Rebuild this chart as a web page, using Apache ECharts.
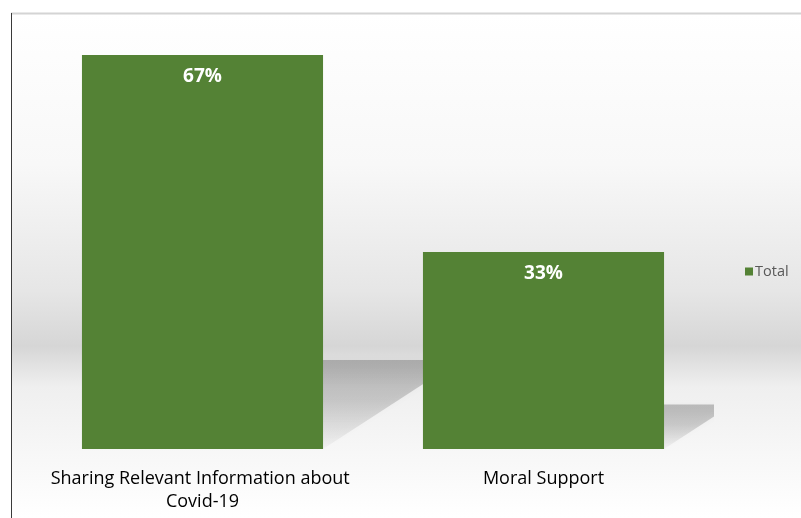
<!DOCTYPE html>
<html><head><meta charset="utf-8">
<script src="https://cdn.jsdelivr.net/npm/echarts@6/dist/echarts.min.js"></script>
<style>html,body{margin:0;padding:0;background:#fff}#c{width:801px;height:518px}</style>
</head><body><div id="c"></div>
<script>
const categories = ['Sharing Relevant Information about Covid-19', 'Moral Support'];
const totalValues = [66.67, 33.33];
const seriesName = 'Total';

const chart = echarts.init(document.getElementById('c'));
const BAR_RATIO = 0.707;
chart.setOption({
  animation: false,
  backgroundColor: '#ffffff',
  graphic: [
    { type: 'rect', z: -10, silent: true, shape: { x: 11, y: 13, width: 790, height: 505 },
      style: { fill: new echarts.graphic.LinearGradient(0, 0, 0, 1, [
        { offset: 0, color: '#ffffff' },
        { offset: 0.3, color: '#f8f8f8' },
        { offset: 0.55, color: '#e6e6e6' },
        { offset: 0.66, color: '#d6d6d6' },
        { offset: 0.74, color: '#efefef' },
        { offset: 1, color: '#ffffff' }
      ]) } },
    { type: 'line', z: 10, silent: true, shape: { x1: 11, y1: 13.5, x2: 801, y2: 13.5 }, style: { stroke: '#d4d4d4', lineWidth: 2 } },
    { type: 'line', z: 10, silent: true, shape: { x1: 11.5, y1: 13, x2: 11.5, y2: 518 }, style: { stroke: '#3a3a3a', lineWidth: 1 } }
  ],
  grid: { left: 32, right: 87, top: 55, bottom: 69 },
  legend: {
    data: [seriesName], orient: 'vertical', left: 740, top: 259,
    icon: 'rect', itemWidth: 8, itemHeight: 8, itemGap: 4,
    textStyle: { fontFamily: 'Open Sans', fontSize: 14.5, color: '#595959', padding: [0, 0, 0, -3] }
  },
  xAxis: {
    type: 'category', data: categories,
    axisLine: { show: false }, axisTick: { show: false },
    axisLabel: { interval: 0, margin: 18, width: 335, overflow: 'break',
      fontFamily: 'Open Sans', fontSize: 18, color: '#000000', lineHeight: 23 }
  },
  yAxis: { type: 'value', min: 0, max: 66.67, show: false, splitLine: { show: false } },
  series: [
    {
      type: 'custom', name: 'shadow', clip: true, z: 1, silent: true,
      data: totalValues.map((v, i) => [i, v]),
      renderItem: function (params, api) {
        const idx = api.value(0), v = api.value(1);
        const top = api.coord([idx, v]);
        const base = api.coord([idx, 0]);
        const bw = api.size([1, 0])[0] * BAR_RATIO;
        const xl = base[0] - bw / 2, xr = base[0] + bw / 2, yb = base[1];
        const h = yb - top[1];
        const sh = h * 0.226, dx = sh * 1.54;
        return {
          type: 'polygon',
          shape: { points: [[xl, yb], [xr, yb], [xr + dx, yb - sh], [xl + dx, yb - sh]] },
          style: {
            fill: new echarts.graphic.LinearGradient(0, 0, 0, 1, [
              { offset: 0, color: 'rgba(0,0,0,0.22)' },
              { offset: 0.45, color: 'rgba(0,0,0,0.16)' },
              { offset: 1, color: 'rgba(0,0,0,0.02)' }
            ]),
            shadowBlur: 6, shadowColor: 'rgba(0,0,0,0.15)'
          }
        };
      }
    },
    {
      type: 'bar', name: seriesName, data: totalValues, z: 2,
      barWidth: '70.7%',
      itemStyle: { color: '#548235' },
      label: {
        show: true, position: 'insideTop', distance: 12,
        formatter: p => Math.round(p.value) + '%',
        color: '#ffffff', fontWeight: 'bold', fontFamily: 'Open Sans', fontSize: 19
      }
    }
  ]
});
</script></body></html>
